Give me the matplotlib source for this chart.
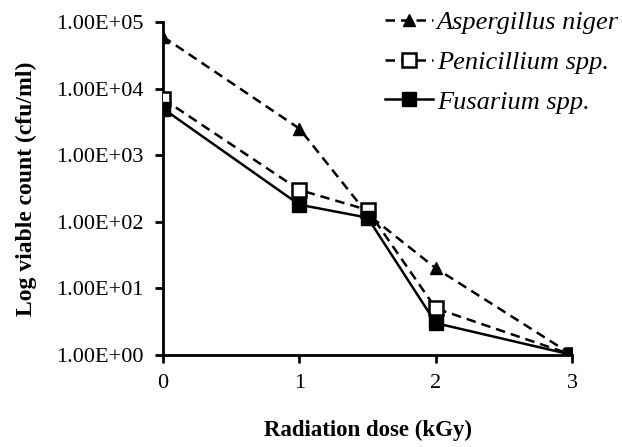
import matplotlib
matplotlib.use('Agg')
import matplotlib.pyplot as plt
from matplotlib.ticker import FixedLocator, FuncFormatter

plt.rcParams['font.family'] = ['Liberation Serif', 'DejaVu Serif']

# 数据
dose = [0, 1, 1.5, 2, 3]
aspergillus = [60000, 2500, 130, 20, 1]
penicillium = [7000, 300, 150, 5, 1]
fusarium = [5000, 180, 115, 3, 1]
x_ticks = [0, 1, 2, 3]
y_ticks = [1, 10, 100, 1000, 10000, 100000]

fig = plt.figure(figsize=(6.22, 4.47), dpi=100)
ax = fig.add_axes([0.262, 0.206, 0.658, 0.745])

dash = (0, (3.8, 2.4))
ax.plot(dose, aspergillus, color='black', linestyle=dash, linewidth=1.8,
        marker='^', markersize=9, label='Aspergillus niger')
ax.plot(dose, penicillium, color='black', linestyle=dash, linewidth=1.8,
        marker='s', markersize=9.5, markerfacecolor='white', markeredgewidth=1.8,
        label='Penicillium spp.')
ax.plot(dose, fusarium, color='black', linestyle='-', linewidth=1.8,
        marker='s', markersize=9.5, label='Fusarium spp.')

ax.set_yscale('log')
ax.set_ylim(1, 100000)
ax.set_xlim(0, 3)
ax.yaxis.set_major_locator(FixedLocator(y_ticks))
ax.yaxis.set_minor_locator(FixedLocator([]))
ax.yaxis.set_major_formatter(FuncFormatter(lambda v, p: f'{v:.2E}'))
ax.set_xticks(x_ticks)

for s in ['top', 'right']:
    ax.spines[s].set_visible(False)
for s in ['left', 'bottom']:
    ax.spines[s].set_linewidth(2)
    ax.spines[s].set_zorder(1)

ax.tick_params(axis='both', direction='out', width=2, length=6, labelsize=16, pad=8)
ax.set_ylabel('Log viable count (cfu/ml)', fontsize=17, fontweight='bold', labelpad=14)
ax.set_xlabel('Radiation dose (kGy)', fontsize=16.5, fontweight='bold', labelpad=19)

leg = ax.legend(loc='upper right', bbox_to_anchor=(1.012, 1.0), bbox_transform=fig.transFigure,
                borderaxespad=0, frameon=False, handlelength=1.8, handletextpad=0.15,
                labelspacing=0.62, prop={'style': 'italic', 'size': 19})

fig.savefig('out.png', dpi=100)
